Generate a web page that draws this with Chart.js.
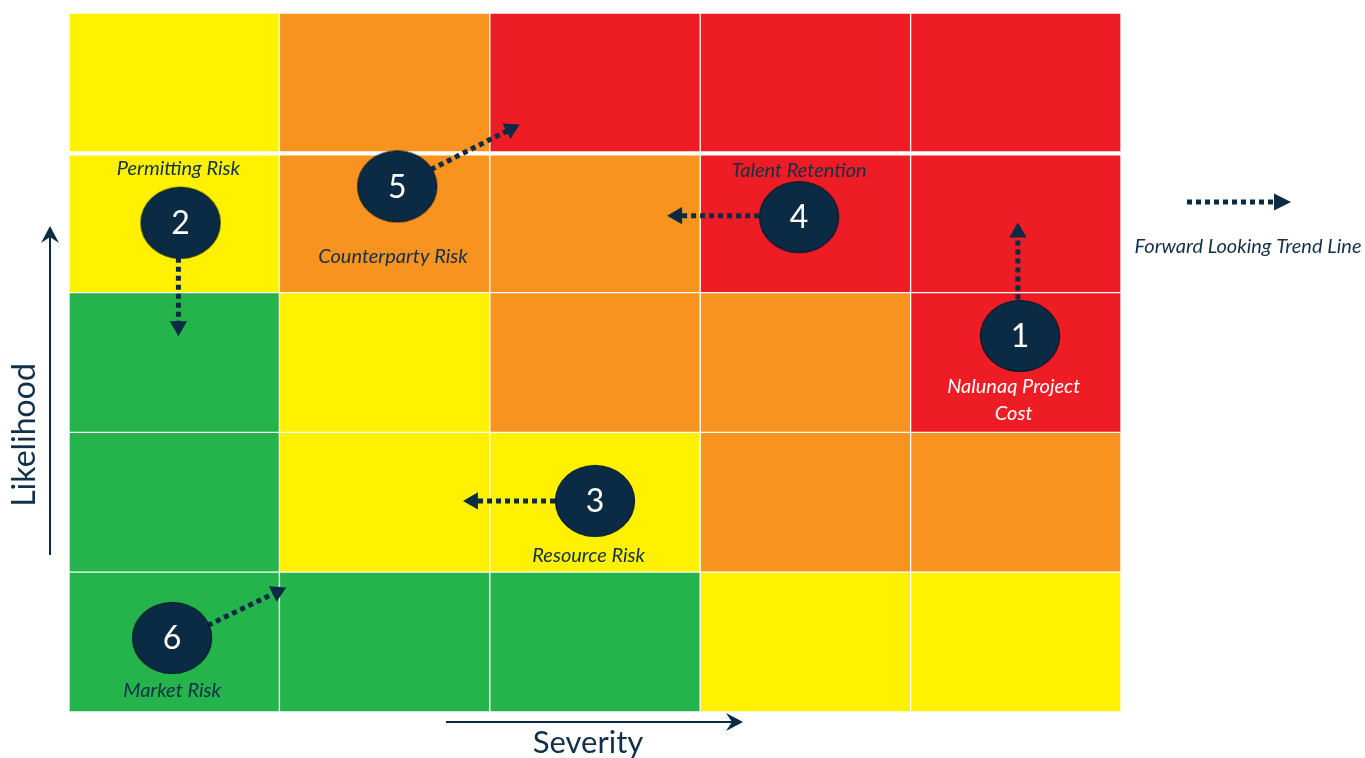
<!DOCTYPE html>
<html>
<head>
<meta charset="utf-8">
<title>Risk Matrix</title>
<script src="https://cdn.jsdelivr.net/npm/chart.js@4.4.1/dist/chart.umd.min.js"></script>
<style>
  html, body { margin: 0; padding: 0; background: #fff; }
  canvas { display: block; }
</style>
</head>
<body>
<canvas id="riskChart" width="1365" height="758"></canvas>
<script>
// Grid: severity columns, likelihood rows (bottom row first)
const severityCols = ['1', '2', '3', '4', '5'];
const likelihood1 = ['green', 'green', 'green', 'yellow', 'yellow'];
const likelihood2 = ['green', 'yellow', 'yellow', 'orange', 'orange'];
const likelihood3 = ['green', 'yellow', 'orange', 'orange', 'red'];
const likelihood4 = ['yellow', 'orange', 'orange', 'red', 'red'];
const likelihood5 = ['yellow', 'orange', 'red', 'red', 'red'];
const likelihoodRows = [likelihood1, likelihood2, likelihood3, likelihood4, likelihood5];

// Risks
const riskIds = ['1', '2', '3', '4', '5', '6'];
const riskSeverity = [4.52, 0.53, 2.50, 3.47, 1.56, 0.49];
const riskLikelihood = [2.69, 3.50, 1.51, 3.54, 3.76, 0.53];
const riskNames = [['Nalunaq Project', 'Cost'], ['Permitting Risk'], ['Resource Risk'], ['Talent Retention'], ['Counterparty Risk'], ['Market Risk']];
const nameSeverity = [4.49, 0.52, 2.47, 3.47, 1.54, 0.49];
const nameLikelihood = [2.23, 3.89, 1.12, 3.87, 3.26, 0.15];

// Forward looking trend lines
const trendFromX = [4.51, 0.52, 2.31, 3.28, 1.72, 0.66];
const trendFromY = [2.95, 3.25, 1.51, 3.55, 3.88, 0.62];
const trendToX = [4.51, 0.52, 1.92, 2.89, 2.10, 0.99];
const trendToY = [3.43, 2.76, 1.51, 3.55, 4.17, 0.86];

const palette = { green: '#25b34b', yellow: '#fff100', orange: '#f7931e', red: '#ee1c25' };
const navy = '#0a2b43';
const textNavy = '#12304a';

// Bubble marker (slightly oval)
function makeBubble() {
    const c = document.createElement('canvas');
    c.width = 82;
    c.height = 74;
    const g = c.getContext('2d');
    g.beginPath();
    g.ellipse(41, 37, 39.5, 35.5, 0, 0, Math.PI * 2);
    g.fillStyle = navy;
    g.fill();
    g.lineWidth = 1.2;
    g.strokeStyle = '#03182a';
    g.stroke();
    return c;
}
const bubble = makeBubble();

// Grid rows as stacked bars
const gridDatasets = likelihoodRows.map((row, r) => ({
    type: 'bar',
    data: severityCols.map(() => 1),
    backgroundColor: row.map(c => palette[c]),
    borderColor: '#ffffff',
    borderWidth: {
        left: 1, right: 1,
        top: r === 3 ? 3 : 1,
        bottom: r === 4 ? 2 : 1
    },
    borderSkipped: false,
    barPercentage: 1,
    categoryPercentage: 1,
    grouped: false,
    stack: 'grid',
    xAxisID: 'x',
    yAxisID: 'y',
    order: 3
}));

function arrowAngle(ctx, fx, fy, tx, ty) {
    const sx = ctx.chart.scales.x2, sy = ctx.chart.scales.y2;
    const dx = sx.getPixelForValue(tx) - sx.getPixelForValue(fx);
    const dy = sy.getPixelForValue(ty) - sy.getPixelForValue(fy);
    return Math.atan2(dx, -dy) * 180 / Math.PI;
}

const trendDatasets = riskIds.map((id, i) => ({
    type: 'line',
    data: [
        { x: trendFromX[i], y: trendFromY[i] },
        { x: trendToX[i], y: trendToY[i] }
    ],
    borderColor: navy,
    borderWidth: 5,
    borderDash: [5, 4],
    borderCapStyle: 'butt',
    pointStyle: 'triangle',
    pointRadius: [0, 10],
    pointBorderWidth: 0,
    pointBackgroundColor: navy,
    pointRotation: ctx => arrowAngle(ctx, trendFromX[i], trendFromY[i], trendToX[i], trendToY[i]),
    xAxisID: 'x2',
    yAxisID: 'y2',
    order: 2
}));

const bubbleDataset = {
    type: 'scatter',
    data: riskIds.map((id, i) => ({ x: riskSeverity[i], y: riskLikelihood[i] })),
    pointStyle: bubble,
    pointRadius: 38,
    xAxisID: 'x2',
    yAxisID: 'y2',
    order: 1
};

function drawOpenArrowHead(ctx, x, y, angle) {
    ctx.save();
    ctx.translate(x, y);
    ctx.rotate(angle);
    ctx.beginPath();
    ctx.moveTo(0, 0);
    ctx.lineTo(-17, -9);
    ctx.lineTo(-11, 0);
    ctx.lineTo(-17, 9);
    ctx.closePath();
    ctx.fill();
    ctx.restore();
}

const labelPlugin = {
    id: 'riskLabels',
    afterDatasetsDraw(chart) {
        const ctx = chart.ctx;
        const sx = chart.scales.x2, sy = chart.scales.y2;
        const bubbleMeta = chart.getDatasetMeta(chart.data.datasets.length - 1);
        ctx.save();
        ctx.textAlign = 'center';
        ctx.textBaseline = 'middle';

        // numbers inside bubbles
        ctx.fillStyle = '#ffffff';
        ctx.font = '32px Lato';
        bubbleMeta.data.forEach((pt, i) => {
            ctx.fillText(riskIds[i], pt.x, pt.y + 1);
        });

        // risk names
        ctx.font = 'italic 20px Lato';
        riskNames.forEach((lines, i) => {
            const px = sx.getPixelForValue(nameSeverity[i]);
            const py = sy.getPixelForValue(nameLikelihood[i]);
            ctx.fillStyle = i === 0 ? '#ffffff' : textNavy;
            lines.forEach((line, k) => {
                ctx.fillText(line, px, py + (k - (lines.length - 1) / 2) * 27);
            });
        });

        // legend
        ctx.strokeStyle = navy;
        ctx.fillStyle = navy;
        ctx.lineWidth = 5;
        ctx.setLineDash([5, 4]);
        ctx.beginPath();
        ctx.moveTo(1187, 202);
        ctx.lineTo(1275, 202);
        ctx.stroke();
        ctx.setLineDash([]);
        ctx.beginPath();
        ctx.moveTo(1291, 202);
        ctx.lineTo(1274, 193.5);
        ctx.lineTo(1274, 210.5);
        ctx.closePath();
        ctx.fill();
        ctx.fillStyle = textNavy;
        ctx.font = 'italic 20px Lato';
        ctx.fillText('Forward Looking Trend Line', 1248, 247);

        // axis arrows
        ctx.strokeStyle = navy;
        ctx.fillStyle = navy;
        ctx.lineWidth = 2;
        ctx.beginPath();
        ctx.moveTo(50, 555);
        ctx.lineTo(50, 232);
        ctx.stroke();
        drawOpenArrowHead(ctx, 50, 226, -Math.PI / 2);
        ctx.beginPath();
        ctx.moveTo(446, 722);
        ctx.lineTo(737, 722);
        ctx.stroke();
        drawOpenArrowHead(ctx, 743, 722, 0);

        ctx.fillStyle = textNavy;
        ctx.font = '31px Lato';
        ctx.fillText('Severity', 588, 743);
        ctx.save();
        ctx.translate(25, 435);
        ctx.rotate(-Math.PI / 2);
        ctx.font = '32px Lato';
        ctx.fillText('Likelihood', 0, 0);
        ctx.restore();
        ctx.restore();
    }
};

new Chart(document.getElementById('riskChart'), {
    type: 'bar',
    data: {
        labels: severityCols,
        datasets: [...gridDatasets, ...trendDatasets, bubbleDataset]
    },
    options: {
        responsive: false,
        animation: false,
        layout: {
            autoPadding: false,
            padding: { left: 69, top: 13, right: 244, bottom: 46 }
        },
        scales: {
            x: { display: false, stacked: true, offset: true },
            y: { display: false, stacked: true, min: 0, max: 5 },
            x2: { type: 'linear', axis: 'x', position: 'bottom', display: false, offset: false, min: 0, max: 5 },
            y2: { type: 'linear', axis: 'y', position: 'left', display: false, offset: false, min: 0, max: 5 }
        },
        plugins: {
            legend: { display: false },
            title: { display: false },
            tooltip: { enabled: false }
        }
    },
    plugins: [labelPlugin]
});
</script>
</body>
</html>
